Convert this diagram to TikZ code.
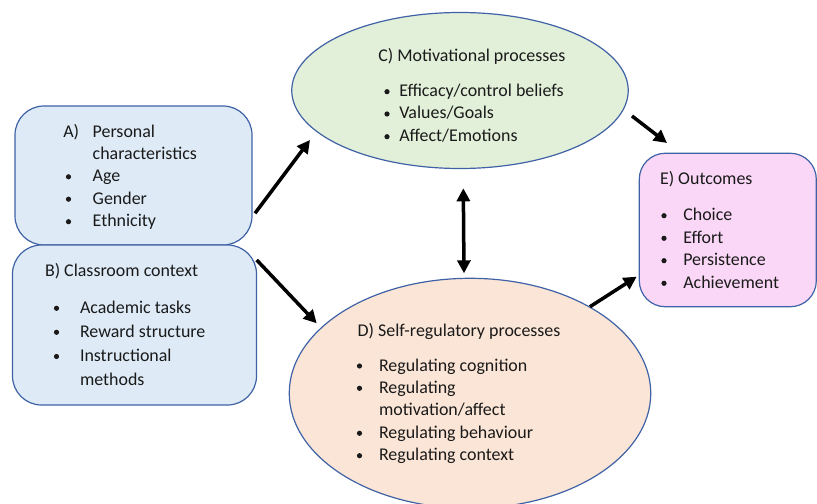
\documentclass[tikz,border=0pt]{standalone}
\usepackage{fontspec}
\setmainfont{Carlito}
\usetikzlibrary{shapes.geometric,arrows.meta}
\definecolor{bord}{HTML}{3F62A6}
\definecolor{blueF}{HTML}{DEEBF7}
\definecolor{greenF}{HTML}{E2F0D9}
\definecolor{orangeF}{HTML}{FBE5D6}
\definecolor{pinkF}{HTML}{FAD7F6}
\definecolor{ink}{HTML}{1A1A1A}
\begin{document}
\begin{tikzpicture}[x=1bp,y=-1bp,
  every node/.style={inner sep=0pt,outer sep=0pt},
  rbox/.style={draw=bord,line width=1.2bp,rectangle,rounded corners=29bp},
  ell/.style={draw=bord,line width=1.2bp,ellipse},
  txt/.style={anchor=base west,text=ink,font=\fontsize{18}{22}\selectfont},
  arr/.style={line width=3.5bp,-{Triangle[length=13bp,width=13bp]}},
  darr/.style={line width=3.5bp,{Triangle[length=13bp,width=13bp]}-{Triangle[length=13bp,width=13bp]}}
]
\useasboundingbox (0,0) rectangle (817,504);
\begin{scope}
\clip (0,0) rectangle (817,504);
% shapes
\node[rbox,fill=blueF,minimum width=237bp,minimum height=139bp] (A) at (133.5,175.5) {};
\node[rbox,fill=blueF,minimum width=244bp,minimum height=160bp] (B) at (134.5,325) {};
\node[ell,fill=greenF,minimum width=336.5bp,minimum height=156bp] (C) at (460,90.5) {};
\node[ell,fill=orangeF,minimum width=361.5bp,minimum height=230bp] (D) at (470,393.3) {};
\node[rbox,fill=pinkF,minimum width=177bp,minimum height=153.5bp,rounded corners=26bp] (E) at (727.8,230) {};
\end{scope}
% A text
\node[txt] (a0) at (63.3,137.5) {A)};
\node[txt] (a1) at (92.7,137.5) {Personal};
\node[txt] (a2) at (92.7,159.5) {characteristics};
\node[txt] (a3) at (92.7,181.8) {Age};
\node[txt] (a4) at (92.7,204.2) {Gender};
\node[txt] (a5) at (92.7,226.7) {Ethnicity};
\foreach \y in {181.8,204.2,226.7} \fill[ink] (68.5,\y-5) circle (2.6bp);
% B text
\node[txt] (b0) at (45,276.7) {B) Classroom context};
\node[txt] (b1) at (80,313.3) {Academic tasks};
\node[txt] (b2) at (80,337.3) {Reward structure};
\node[txt] (b3) at (80,361.5) {Instructional};
\node[txt] (b4) at (80,385) {methods};
\foreach \y in {313.3,337.3,361.5} \fill[ink] (56.5,\y-5) circle (2.6bp);
% C text
\node[txt] (c0) at (378.3,61.7) {C) Motivational processes};
\node[txt] (c1) at (399.3,96.7) {Efficacy/control beliefs};
\node[txt] (c2) at (399.3,119) {Values/Goals};
\node[txt] (c3) at (399.3,141.7) {Affect/Emotions};
\foreach \y in {96.7,119,141.7} \fill[ink] (387,\y-5) circle (2.6bp);
% D text
\node[txt] (d0) at (357.7,336) {D) Self-regulatory processes};
\node[txt] (d1) at (379,371) {Regulating cognition};
\node[txt] (d2) at (379,393.3) {Regulating};
\node[txt] (d3) at (379,415.7) {motivation/affect};
\node[txt] (d4) at (379,438.3) {Regulating behaviour};
\node[txt] (d5) at (379,460.7) {Regulating context};
\foreach \y in {371,393.3,438.3,460.7} \fill[ink] (359.5,\y-5) circle (2.6bp);
% E text
\node[txt] (e0) at (660,185) {E) Outcomes};
\node[txt] (e1) at (683.3,220.7) {Choice};
\node[txt] (e2) at (683.3,243.3) {Effort};
\node[txt] (e3) at (683.3,265.7) {Persistence};
\node[txt] (e4) at (683.3,288.3) {Achievement};
\foreach \y in {220.7,243.3,265.7,288.3} \fill[ink] (664,\y-5) circle (2.6bp);
% connector end points
\coordinate (ac1) at (255,213.3);
\coordinate (ac2) at (310,140);
\coordinate (bd1) at (256.7,260);
\coordinate (bd2) at (316.7,323.3);
\coordinate (cd1) at (463.3,188.3);
\coordinate (cd2) at (464,273.3);
\coordinate (de1) at (590,306.7);
\coordinate (de2) at (636.7,276.7);
\coordinate (ce1) at (632,116);
\coordinate (ce2) at (667,143);
\draw[arr] (ac1) -- (ac2);
\draw[arr] (bd1) -- (bd2);
\draw[darr] (cd1) -- (cd2);
\draw[arr] (de1) -- (de2);
\draw[arr] (ce1) -- (ce2);
\end{tikzpicture}
\end{document}
